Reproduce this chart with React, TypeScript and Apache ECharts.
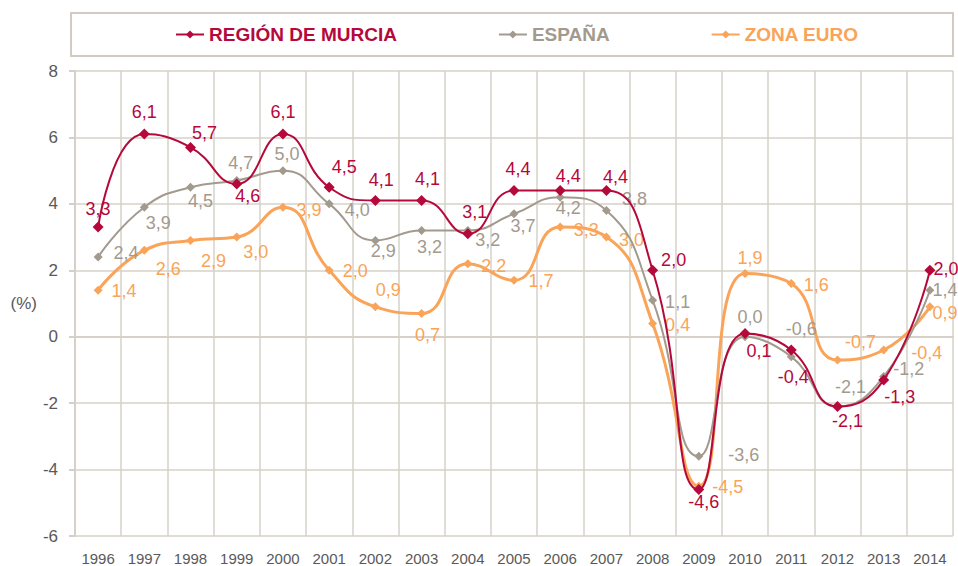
import React, { useEffect, useRef } from "react";
import * as echarts from "echarts";

const years = ["1996","1997","1998","1999","2000","2001","2002","2003","2004","2005","2006","2007","2008","2009","2010","2011","2012","2013","2014"];
const murcia = [3.3, 6.1, 5.7, 4.6, 6.1, 4.5, 4.1, 4.1, 3.1, 4.4, 4.4, 4.4, 2.0, -4.6, 0.1, -0.4, -2.1, -1.3, 2.0];
const espana = [2.4, 3.9, 4.5, 4.7, 5.0, 4.0, 2.9, 3.2, 3.2, 3.7, 4.2, 3.8, 1.1, -3.6, 0.0, -0.6, -2.1, -1.2, 1.4];
const zonaEuro = [1.4, 2.6, 2.9, 3.0, 3.9, 2.0, 0.9, 0.7, 2.2, 1.7, 3.3, 3.0, 0.4, -4.5, 1.9, 1.6, -0.7, -0.4, 0.9];
const seriesNames = ["REGIÓN DE MURCIA", "ESPAÑA", "ZONA EURO"];

// label placement (style only): offset of label centre from the point
const murciaLabelOffsets = [[0,-18],[0,-22],[14,-14],[11,12],[0,-22],[15,-20],[6,-21],[6,-22],[7,-22],[4,-22],[8,-15],[9,-14],[21,-10],[5,12],[14,18],[2,27],[10,15],[16,17],[16,-1]];
const espanaLabelOffsets = [[28,-4],[14,16],[10,14],[4,-18],[4,-17],[28,6],[8,11],[8,17],[20,10],[9,12],[8,11],[28,-12],[25,2],[45,-1],[5,-20],[10,-28],[13,-19],[25,-8],[15,0]];
const zonaLabelOffsets = [[26,1],[24,19],[23,21],[19,15],[26,3],[26,1],[13,-17],[6,22],[26,2],[27,1],[26,3],[25,3],[25,2],[29,1],[5,-16],[25,1],[23,-18],[43,3],[15,6]];

const COLORS = ["#b5083b", "#a39a8e", "#f9a459"];
const GRID = "#d6d0c9";
const FONT = "'Liberation Sans', Arial, sans-serif";

const fmt = (v: number) => v.toFixed(1).replace(".", ",");

function buildData(values: number[], offsets: number[][]) {
  return values.map((v, i) => ({
    value: v,
    label: { offset: offsets[i] },
  }));
}

export default function App() {
  const ref = useRef<HTMLDivElement>(null);
  useEffect(() => {
    if (!ref.current) return;
    const chart = echarts.init(ref.current, undefined, { renderer: "svg" });
    const mk = (name: string, values: number[], offsets: number[][], color: string, width: number, size: number, z: number) => ({
      name,
      type: "line",
      smooth: 0.5,
      z,
      data: buildData(values, offsets),
      symbol: "diamond",
      symbolSize: size,
      lineStyle: { color, width },
      itemStyle: { color },
      label: {
        show: true,
        position: "inside",
        color,
        fontSize: 18,
        lineHeight: 18,
        fontFamily: FONT,
        textBorderWidth: 0,
        formatter: (p: any) => fmt(p.value),
      },
    });
    chart.setOption({
      animation: false,
      backgroundColor: "#ffffff",
      graphic: [
        {
          type: "rect",
          shape: { x: 71, y: 13, width: 882, height: 43 },
          style: { fill: "none", stroke: "#d2cbc3", lineWidth: 2 },
          silent: true,
        },
      ],
      legend: {
        left: 170,
        top: 20,
        itemGap: 101,
        itemWidth: 28,
        itemHeight: 10,
        data: seriesNames.map((n, i) => ({
          name: n,
          textStyle: { color: COLORS[i], fontWeight: "bold", fontSize: 19, fontFamily: FONT },
        })),
      },
      grid: { left: 75, right: 5, top: 71, bottom: 29 },
      xAxis: {
        type: "category",
        data: years,
        boundaryGap: true,
        axisLine: { lineStyle: { color: GRID, width: 2 } },
        axisTick: { show: false },
        axisLabel: { color: "#595959", fontSize: 15, fontFamily: FONT, margin: 15 },
        splitLine: { show: true, lineStyle: { color: GRID, width: 1.5 } },
      },
      yAxis: {
        type: "value",
        min: -6,
        max: 8,
        interval: 2,
        name: "(%)",
        nameLocation: "middle",
        nameGap: 38,
        nameRotate: 0,
        nameTextStyle: { color: "#595959", fontSize: 17, fontFamily: FONT },
        axisLine: { show: true, lineStyle: { color: GRID, width: 2 } },
        axisTick: { show: true, length: 6, lineStyle: { color: GRID, width: 2 } },
        axisLabel: { color: "#595959", fontSize: 17, fontFamily: FONT, margin: 17 },
        splitLine: { show: true, lineStyle: { color: GRID, width: 1.5 } },
      },
      series: [
        mk(seriesNames[2], zonaEuro, zonaLabelOffsets, COLORS[2], 3, 9, 2),
        mk(seriesNames[1], espana, espanaLabelOffsets, COLORS[1], 2, 9, 3),
        mk(seriesNames[0], murcia, murciaLabelOffsets, COLORS[0], 2, 11, 4),
      ],
    });
    return () => chart.dispose();
  }, []);
  return <div ref={ref} style={{ position: "fixed", left: 0, top: 0, width: 958, height: 566 }} />;
}
